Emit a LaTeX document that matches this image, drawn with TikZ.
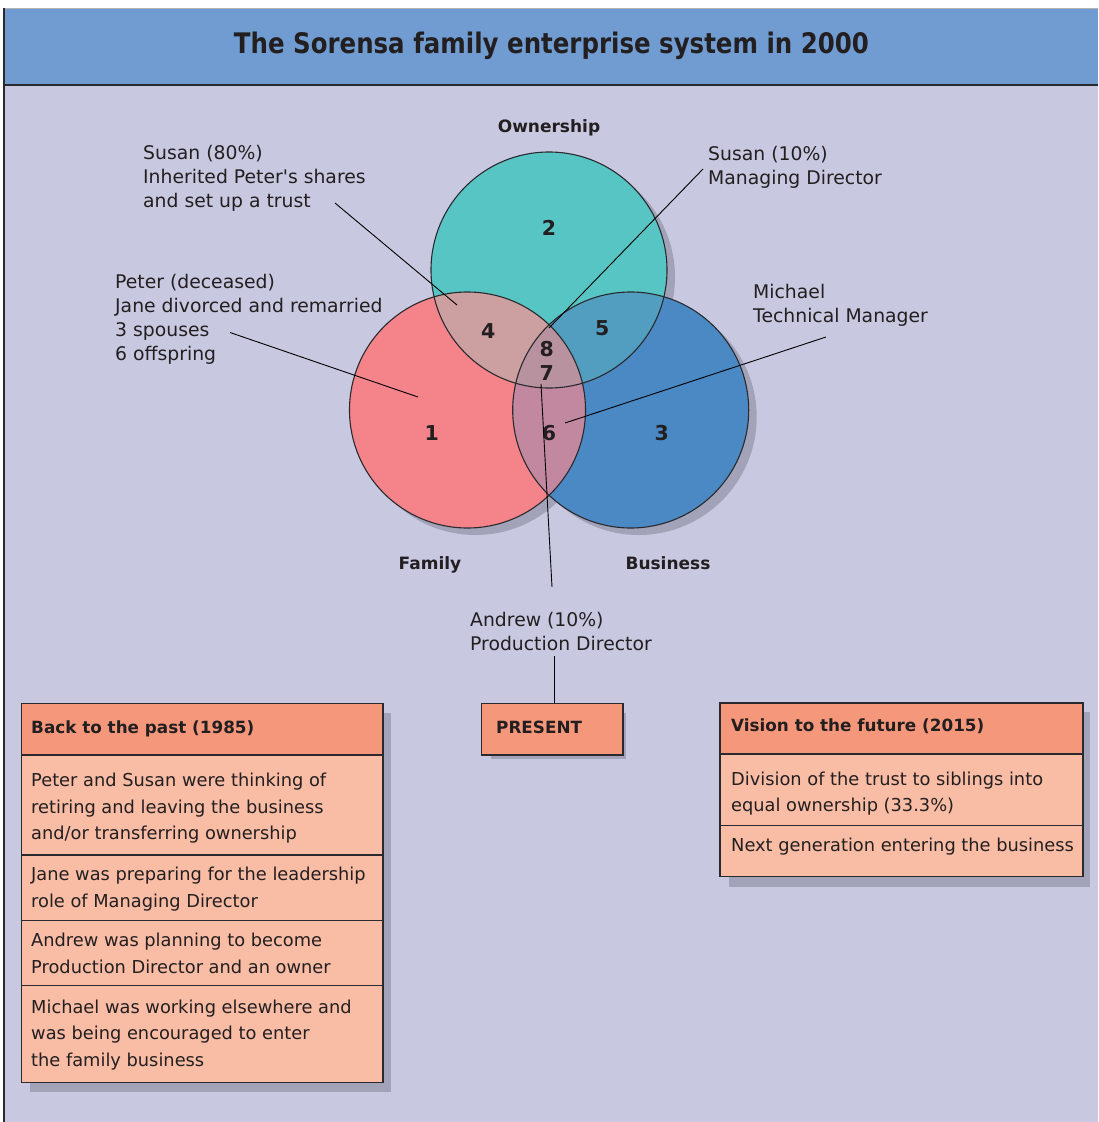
\documentclass[tikz,border=0pt]{standalone}
\usepackage{fontspec}
\setmainfont{DejaVu Sans}
\usepackage{graphicx}
\definecolor{titleblue}{HTML}{709CD2}
\definecolor{lav}{HTML}{C8C8E1}
\definecolor{shad}{HTML}{A2A3B9}
\definecolor{cown}{HTML}{58C5C5}
\definecolor{cfam}{HTML}{F4848A}
\definecolor{cbus}{HTML}{4A89C3}
\definecolor{cfo}{HTML}{CC9FA0}
\definecolor{cob}{HTML}{529EC0}
\definecolor{cfb}{HTML}{C2889F}
\definecolor{cmid}{HTML}{B8929F}
\definecolor{hdrfill}{HTML}{F5977A}
\definecolor{rowfill}{HTML}{F9BCA5}
\definecolor{txt}{HTML}{231F20}
\definecolor{edge}{HTML}{2A2A2E}
\newcommand{\mylines}[1]{\vtop{\def\\{\cr}\halign{##\hfil\cr#1\crcr}}}
\begin{document}
\begin{tikzpicture}[x=1pt,y=-1pt,
  lbl/.style={anchor=base west, inner sep=0pt, font=\fontsize{18.8}{24}\selectfont, text=txt},
  boxtxt/.style={anchor=base west, inner sep=0pt, font=\fontsize{17.8}{26.5}\selectfont, text=txt},
  hdr/.style={anchor=base west, inner sep=0pt, font=\bfseries\fontsize{16.8}{20}\selectfont, text=txt},
  num/.style={inner sep=0pt, font=\bfseries\fontsize{20.5}{24}\selectfont, text=txt},
  setname/.style={anchor=base, inner sep=0pt, font=\bfseries\fontsize{17}{20}\selectfont, text=txt},
  hdrbox/.style={draw=edge, line width=1.4pt, fill=hdrfill, anchor=north west, inner sep=0pt},
  rowbox/.style={draw=edge, line width=1.4pt, fill=rowfill, anchor=north west, inner sep=0pt},
  conn/.style={draw=black, line width=0.9pt},
  ring/.style={draw=edge, line width=1.1pt}]
\useasboundingbox (0,0) rectangle (1098,1122);
% background
\fill[white] (0,0) rectangle (1098,1122);
\fill[lav] (4,85) rectangle (1098,1122);
\fill[titleblue] (4,8) rectangle (1098,85);
\draw[gray!60, line width=0.8pt] (4,8) -- (1098,8);
\draw[edge, line width=2pt] (4,85) -- (1098,85);
\draw[edge, line width=1.5pt] (4,8) -- (4,1122);
\node[anchor=base, inner sep=0pt, text=txt] (title) at (551.5,53.3)
  {\resizebox{635pt}{21.5pt}{\bfseries The Sorensa family enterprise system in 2000}};

% circle centres
\coordinate (O) at (549,270);
\coordinate (F) at (467.5,410);
\coordinate (B) at (630.7,410);
% shadows
\fill[shad] ([shift={(8,7)}]O) circle[radius=118pt];
\fill[shad] ([shift={(8,7)}]F) circle[radius=118pt];
\fill[shad] ([shift={(8,7)}]B) circle[radius=118pt];
% base fills
\fill[cown] (O) circle[radius=118pt];
\fill[cfam] (F) circle[radius=118pt];
\fill[cbus] (B) circle[radius=118pt];
% overlaps
\begin{scope}\clip (F) circle[radius=118pt]; \fill[cfo] (O) circle[radius=118pt];\end{scope}
\begin{scope}\clip (O) circle[radius=118pt]; \fill[cob] (B) circle[radius=118pt];\end{scope}
\begin{scope}\clip (F) circle[radius=118pt]; \fill[cfb] (B) circle[radius=118pt];\end{scope}
\begin{scope}\clip (F) circle[radius=118pt]; \clip (O) circle[radius=118pt]; \fill[cmid] (B) circle[radius=118pt];\end{scope}
\draw[ring] (O) circle[radius=118pt];
\draw[ring] (F) circle[radius=118pt];
\draw[ring] (B) circle[radius=118pt];

% set names
\node[setname] (own) at (549,132.5) {Ownership};
\node[setname] (fam) at (430,569) {Family};
\node[setname] (bus) at (668,569) {Business};
% numbers
\node[num] (n2) at (549,228.3) {2};
\node[num] (n4) at (488.3,330.7) {4};
\node[num] (n5) at (602.3,327.7) {5};
\node[num] (n8) at (546.7,349.3) {8};
\node[num] (n7) at (546.7,372.7) {7};
\node[num] (n1) at (431.7,432.7) {1};
\node[num] (n6) at (549,432.7) {6};
\node[num] (n3) at (661.7,432.7) {3};

% labels
\node[lbl] (s80) at (143,159.3) {\mylines{Susan (80\%)\\Inherited Peter\textquotesingle s shares\\and set up a trust}};
\node[lbl] (s10) at (708,160) {\mylines{Susan (10\%)\\Managing Director}};
\node[lbl] (pet) at (115,288.3) {\mylines{Peter (deceased)\\Jane divorced and remarried\\3 spouses\\6 offspring}};
\node[lbl] (mic) at (753,298) {\mylines{Michael\\Technical Manager}};
\node[lbl] (and) at (470,626) {\mylines{Andrew (10\%)\\Production Director}};

% connector ends
\coordinate (s80a) at (335,203); \coordinate (s80b) at (457,305);
\coordinate (s10a) at (703,169); \coordinate (s10b) at (549,328);
\coordinate (peta) at (230,332.5); \coordinate (petb) at (418,397);
\coordinate (mica) at (826,337); \coordinate (micb) at (565,423);
\coordinate (anda) at (552,587); \coordinate (andb) at (541,384);
\coordinate (andc) at (554,656);
\draw[conn] (s80a) -- (s80b);
\draw[conn] (s10a) -- (s10b);
\draw[conn] (peta) -- (petb);
\draw[conn] (mica) -- (micb);
\draw[conn] (anda) -- (andb);

% ---- left box
\fill[shad] (30,713) rectangle (391,1092);
\node[hdrbox, minimum width=361.8pt, minimum height=51.3pt] (lh) at (20.5,703) {};
\node[rowbox, minimum width=361.8pt, minimum height=100pt] (l1) at (20.5,754.3) {};
\node[rowbox, minimum width=361.8pt, minimum height=65.7pt] (l2) at (20.5,854.3) {};
\node[rowbox, minimum width=361.8pt, minimum height=65pt] (l3) at (20.5,920) {};
\node[rowbox, minimum width=361.8pt, minimum height=96.7pt] (l4) at (20.5,985) {};
\node[hdr] (lht) at (31,733.3) {Back to the past (1985)};
\node[boxtxt] (l1t) at (31,786.7) {\mylines{Peter and Susan were thinking of\\retiring and leaving the business\\and/or transferring ownership}};
\node[boxtxt] (l2t) at (31,880.7) {\mylines{Jane was preparing for the leadership\\role of Managing Director}};
\node[boxtxt] (l3t) at (31,946.7) {\mylines{Andrew was planning to become\\Production Director and an owner}};
\node[boxtxt] (l4t) at (31,1013.3) {\mylines{Michael was working elsewhere and\\was being encouraged to enter\\the family business}};

% ---- present box
\fill[shad] (491,713) rectangle (626,759);
\node[hdrbox, minimum width=141.6pt, minimum height=51.6pt] (pres) at (480.7,702.7) {};
\node[hdr] (prest) at (496,733.3) {PRESENT};
\draw[conn] (andc) -- (andc |- pres.north);

% ---- right box
\fill[shad] (729,712.3) rectangle (1090,887.3);
\node[hdrbox, minimum width=363pt, minimum height=51pt] (rh) at (719.3,702.3) {};
\node[rowbox, minimum width=363pt, minimum height=71.7pt] (r1) at (719.3,753.3) {};
\node[rowbox, minimum width=363pt, minimum height=51pt] (r2) at (719.3,825) {};
\node[hdr] (rht) at (731,731.7) {Vision to the future (2015)};
\node[boxtxt] (r1t) at (731,785) {\mylines{Division of the trust to siblings into\\equal ownership (33.3\%)}};
\node[boxtxt] (r2t) at (731,851.7) {Next generation entering the business};
\end{tikzpicture}
\end{document}
